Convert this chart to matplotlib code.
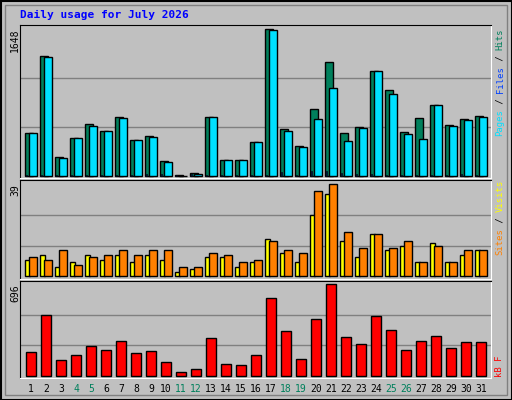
import matplotlib
matplotlib.use("Agg")
import matplotlib.pyplot as plt
from matplotlib.patches import Rectangle
import numpy as np

days = list(range(1, 32))
weekend = [4, 5, 11, 12, 18, 19, 25, 26]
hits = [479, 1341, 210, 423, 580, 502, 660, 401, 446, 165, 11, 30, 660, 176, 176, 378, 1648, 524, 333, 749, 1277, 479, 547, 1176, 963, 491, 648, 794, 569, 637, 670]
pages = [479, 1330, 198, 423, 558, 502, 648, 401, 434, 154, 4, 19, 660, 176, 176, 378, 1637, 502, 322, 637, 985, 389, 536, 1176, 918, 468, 412, 794, 558, 625, 659]
files = [8, 8, 8, 8, 8, 8, 8, 8, 20, 20, 8, 20, 8, 8, 8, 8, 8, 45, 8, 56, 56, 30, 20, 20, 8, 8, 8, 8, 8, 20, 8]
visits = [7, 9, 4, 6, 9, 7, 9, 6, 9, 7, 2, 3, 8, 8, 4, 6, 16, 10, 6, 26, 35, 15, 8, 18, 11, 13, 6, 14, 6, 9, 11]
sites = [8, 7, 11, 5, 8, 9, 11, 9, 11, 11, 4, 4, 10, 9, 6, 7, 15, 11, 10, 36, 39, 19, 12, 18, 12, 15, 6, 13, 6, 11, 11]
kbytes = [178, 460, 117, 155, 224, 193, 262, 170, 185, 102, 25, 48, 285, 86, 79, 155, 589, 338, 124, 429, 696, 292, 239, 452, 345, 193, 262, 300, 208, 254, 254]

BG = "#C0C0C0"
W, H = 512, 400
fig = plt.figure(figsize=(5.12, 4.0), dpi=100)
fig.patch.set_facecolor(BG)
fig.patches.append(Rectangle((0.5 / W, 0.5 / H), 1 - 1 / W, 1 - 1 / H, transform=fig.transFigure,
                             fill=False, ec="black", lw=1.5))
fig.patches.append(Rectangle((5 / W, 5 / H), 1 - 10 / W, 1 - 10 / H, transform=fig.transFigure,
                             fill=False, ec="#808080", lw=1))

mono = "DejaVu Sans Mono"
fig.text(20 / W, 1 - 15 / H, "Daily usage for July 2026", color="#0000FF", fontsize=8,
         fontweight="bold", family=mono, va="center")


def make_ax(top, bottom):
    ax = fig.add_axes([20 / W, 1 - bottom / H, 471 / W, (bottom - top) / H])
    ax.set_facecolor(BG)
    ax.set_xlim(0.27, 31.67)
    ax.set_xticks([])
    ax.set_yticks([])
    for s in ax.spines.values():
        s.set_color("black")
    ax.spines["right"].set_color("white")
    ax.spines["bottom"].set_color("white")
    return ax


d = np.array(days)
kw = dict(edgecolor="black", linewidth=1, zorder=3)

ax1 = make_ax(25, 178)
ax1.set_ylim(-22, 1648 + 45)
for g in (1648 / 3, 2 * 1648 / 3):
    ax1.axhline(g, color="#808080", lw=1, zorder=1)
ax1.bar(d - 0.13, hits, 0.53, color="#00805C", **kw)
ax1.bar(d + 0.13, pages, 0.53, color="#00E0FF", **kw)
ax1.bar(d - 0.3, files, 0.12, color="#0040FF", edgecolor="black", linewidth=0.5, zorder=4)

ax2 = make_ax(180, 279)
ax2.set_ylim(-1.1, 40.8)
for g in (13, 26):
    ax2.axhline(g, color="#808080", lw=1, zorder=1)
ax2.bar(d - 0.2, visits, 0.33, color="#FFFF00", **kw)
ax2.bar(d + 0.13, sites, 0.53, color="#FF8000", **kw)

ax3 = make_ax(281, 378)
ax3.set_ylim(-17.5, 721)
for g in (232, 464):
    ax3.axhline(g, color="#808080", lw=1, zorder=1)
ax3.bar(d, kbytes, 0.7, color="#FF0000", **kw)

# y max labels
for top, txt in ((29, "1648"), (184, "39"), (284, "696")):
    fig.text(15 / W, 1 - top / H, txt, rotation=90, fontsize=7, family=mono,
             ha="center", va="top")

# right legends, read bottom to top
CH = 5.35


def legend(top, parts):
    total = sum(len(p[0]) for p in parts)
    y = top + total * CH
    for txt, col in parts:
        fig.text(500 / W, 1 - y / H, txt, rotation=90, fontsize=6.4, family=mono,
                 color=col, ha="center", va="bottom")
        y -= len(txt) * CH


legend(29, [("Pages", "#00E0FF"), (" / ", "#000000"), ("Files", "#0040FF"),
            (" / ", "#000000"), ("Hits", "#00805C")])
legend(180, [("Sites", "#FF8000"), (" / ", "#000000"), ("Visits", "#FFFF00")])
legend(356, [("kB F", "#FF0000")])

# day labels
for i in days:
    col = "#00805C" if i in weekend else "black"
    fig.text((31 + (i - 1) * 15) / W, 1 - 389 / H, str(i), fontsize=7, family=mono,
             color=col, ha="center", va="center")

fig.savefig("out.png", dpi=100, facecolor=BG)
